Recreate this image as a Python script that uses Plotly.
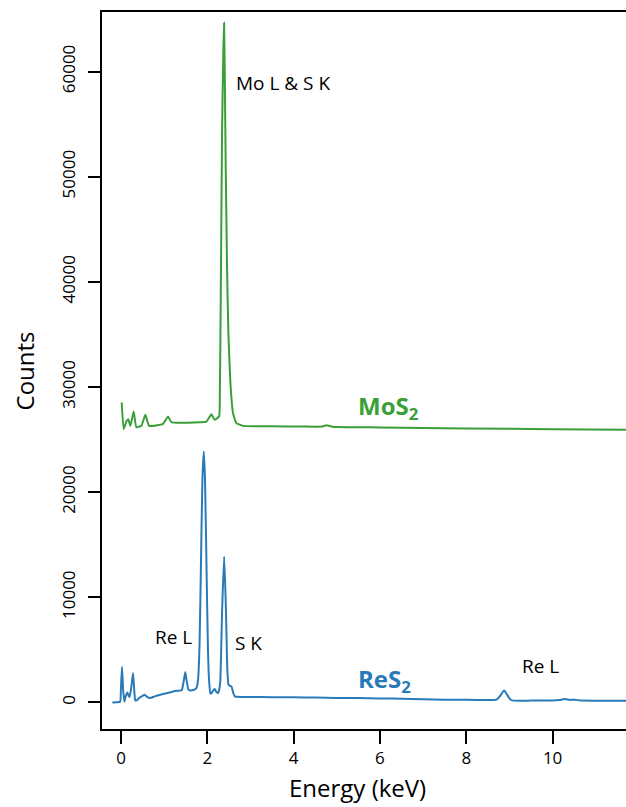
import plotly.graph_objects as go

# ---- data ----
res2_energy = [-0.20, -0.10, -0.02, 0.0, 0.024, 0.05, 0.078, 0.11, 0.148, 0.18, 0.20, 0.24, 0.28, 0.31, 0.33,
               0.38, 0.43, 0.49, 0.55, 0.60, 0.665, 0.80, 1.00, 1.21, 1.30, 1.40, 1.42, 1.46, 1.49, 1.52, 1.56,
               1.59, 1.65, 1.70, 1.75, 1.785, 1.82, 1.847, 1.886, 1.917, 1.947, 1.986, 2.015, 2.04, 2.07, 2.09,
               2.13, 2.17, 2.21, 2.25, 2.28, 2.303, 2.341, 2.39, 2.434, 2.46, 2.49, 2.53, 2.56, 2.60, 2.635,
               2.80, 3.0, 3.5, 4.0, 4.5, 5.0, 5.5, 6.0, 6.5, 7.0, 7.5, 8.0, 8.5, 8.70, 8.78, 8.876, 8.95, 9.02,
               9.09, 9.5, 10.0, 10.15, 10.28, 10.40, 10.52, 10.65, 11.0, 11.70]
res2_counts = [0, 20, 50, 1500, 3360, 1200, 50, 600, 950, 600, 507, 1500, 2790, 1000, 190,
               250, 450, 600, 730, 550, 412, 600, 820, 1046, 1100, 1141, 1300, 2200, 2884, 2100, 1250,
               1141, 1150, 1220, 1400, 2155, 5500, 11660, 21170, 23860, 21170, 11660, 5000, 2155, 900, 824,
               1100, 1268, 1000, 888, 1300, 2155, 8495, 13878, 8495, 3500, 1700, 1550, 1521, 900, 570,
               520, 510, 500, 480, 460, 430, 410, 380, 350, 300, 260, 240, 220, 260, 600, 1141, 700, 280,
               170, 170, 180, 220, 320, 230, 260, 170, 160, 160]

mos2_energy = [0.016, 0.063, 0.125, 0.17, 0.217, 0.294, 0.356, 0.472, 0.565, 0.65, 0.974, 1.09, 1.167,
               1.824, 1.98, 2.094, 2.17, 2.272, 2.29, 2.311, 2.341, 2.372, 2.388, 2.403, 2.426, 2.457,
               2.488, 2.535, 2.596, 2.674, 2.828, 3.5, 4.14, 4.65, 4.76, 4.9, 6.0, 8.0, 10.0, 11.70]
mos2_counts = [28520, 25990, 26710, 26940, 26300, 27660, 26180, 26300, 27350, 26300, 26490, 27190, 26650,
               26650, 26710, 27400, 26870, 27190, 29500, 38260, 54120, 62040, 64640, 60460, 50950, 41440,
               35110, 30360, 27500, 26560, 26300, 26260, 26240, 26230, 26360, 26220, 26150, 26050, 25980, 25920]

x_ticks = [0, 2, 4, 6, 8, 10]
y_ticks = [0, 10000, 20000, 30000, 40000, 50000, 60000]
y_tick_text = ["0", "10000", "20000", "30000", "40000", "50000", "60000"]

# peak labels: (text, energy, counts)
peak_labels = [("Mo L &amp; S K", 2.61, 58900), ("Re L", 0.735, 6245), ("S K", 2.59, 5670), ("Re L", 9.24, 3486)]
series_labels = [("MoS<sub>2</sub>", 5.45, 28100), ("ReS<sub>2</sub>", 5.45, 2160)]

GREEN = "#3a9f37"
BLUE = "#2a7ab8"
FONT = "Open Sans"

fig = go.Figure()
fig.add_trace(go.Scatter(x=mos2_energy, y=mos2_counts, mode="lines",
                         line=dict(color=GREEN, width=2, shape="spline", smoothing=0.4), showlegend=False))
fig.add_trace(go.Scatter(x=res2_energy, y=res2_counts, mode="lines",
                         line=dict(color=BLUE, width=2, shape="spline", smoothing=0.4), showlegend=False))

for text, ex, cy in peak_labels:
    fig.add_annotation(x=ex, y=cy, text=text, showarrow=False, xanchor="left", yanchor="middle",
                       font=dict(family=FONT, size=19, color="black"))
for (text, ex, cy), col in zip(series_labels, [GREEN, BLUE]):
    fig.add_annotation(x=ex, y=cy, text="<b>" + text + "</b>", showarrow=False, xanchor="left",
                       yanchor="middle", font=dict(family=FONT, size=24, color=col))

# axis titles
fig.add_annotation(x=0.4885, y=-0.081, xref="paper", yref="paper", text="Energy (keV)", showarrow=False,
                   xanchor="center", yanchor="middle", font=dict(family=FONT, size=24, color="black"))
fig.add_annotation(x=-0.147, y=0.5, xref="paper", yref="paper", text="Counts", showarrow=False, textangle=-90,
                   xanchor="center", yanchor="middle", font=dict(family=FONT, size=24, color="black"))

fig.update_xaxes(range=[-0.44, 11.70], tickvals=x_ticks, ticks="outside", ticklen=13, tickwidth=1.5,
                 tickcolor="black", showline=True, linewidth=1.5, linecolor="black", mirror=True,
                 showgrid=False, zeroline=False, tickfont=dict(family=FONT, size=17, color="black"))
fig.update_yaxes(range=[-2530, 65660], tickvals=y_ticks, ticktext=y_tick_text, ticks="outside", ticklen=12,
                 tickwidth=1.5, tickcolor="black", showline=True, linewidth=1.5, linecolor="black",
                 mirror=False, showgrid=False, zeroline=False, tickangle=-90, ticklabelstandoff=6,
                 tickfont=dict(family=FONT, size=17, color="black"))

fig.update_layout(width=626, height=807, margin=dict(l=102, r=0, t=12, b=78, autoexpand=False),
                  plot_bgcolor="white", paper_bgcolor="white", showlegend=False)

fig.write_html("out.html", config={"displayModeBar": False},
               post_script="document.body.style.margin='0';document.body.style.overflow='hidden';")
